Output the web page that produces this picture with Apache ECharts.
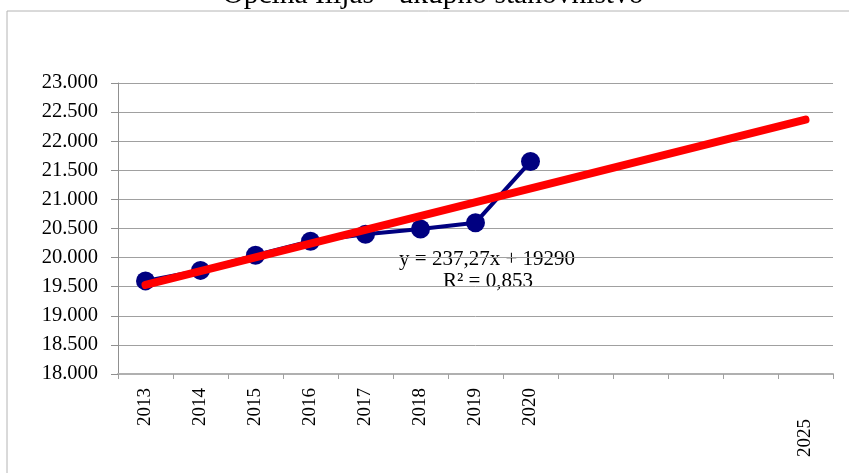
<!DOCTYPE html>
<html>
<head>
<meta charset="utf-8">
<script src="https://cdn.jsdelivr.net/npm/echarts@6/dist/echarts.min.js"></script>
<style>
  html, body { margin: 0; padding: 0; background: #fff; }
  #chartBox { width: 849px; height: 473px; }
</style>
</head>
<body>
<div id="chartBox"></div>
<script>
// tick labels of the category axis (blank years had no label in the original)
var categories = ["2013", "2014", "2015", "2016", "2017", "2018", "2019", "2020", "", "", "", "", "2025"];
// total population
var population = [19600, 19780, 20040, 20280, 20400, 20490, 20600, 21650];
// linear trend end points (2013 and 2025)
var trendIndex = [0, 12];
var trendValue = [19530, 22370];
var yTicks = { min: 18000, max: 23000, step: 500 };

var serif = "'Liberation Serif', 'Times New Roman', serif";

var trendData = [];
for (var i = 0; i < trendIndex.length; i++) {
  trendData.push([trendIndex[i], trendValue[i]]);
}

var chart = echarts.init(document.getElementById("chartBox"));
var option = {
  animation: false,
  backgroundColor: "#fff",
  grid: { left: 118, right: 16, top: 83, bottom: 99, containLabel: false },
  graphic: [
    {
      type: "rect",
      shape: { x: 7, y: 11, width: 1200, height: 1200 },
      style: { fill: "none", stroke: "#b4b4b4", lineWidth: 1 },
      silent: true
    },
    {
      type: "text",
      x: 433, y: 10,
      style: {
        text: "Općina Ilijaš - ukupno stanovništvo",
        font: "29.5px " + serif,
        fill: "#000",
        textAlign: "center",
        textVerticalAlign: "bottom"
      }
    },
    {
      type: "text",
      x: 487, y: 259,
      style: {
        text: "y = 237,27x + 19290",
        font: "21px " + serif,
        fill: "#000",
        textAlign: "center",
        textVerticalAlign: "middle"
      }
    },
    {
      type: "text",
      x: 488, y: 281,
      style: {
        text: "R² = 0,853",
        font: "21px " + serif,
        fill: "#000",
        textAlign: "center",
        textVerticalAlign: "middle"
      }
    }
  ],
  xAxis: {
    type: "category",
    data: categories,
    boundaryGap: true,
    axisLine: { lineStyle: { color: "#b0b0b0", width: 2 } },
    axisTick: { show: true, interval: 0, length: 5, lineStyle: { color: "#a0a0a0" } },
    axisLabel: {
      interval: 0,
      rotate: 90,
      margin: 14,
      color: "#000",
      fontFamily: serif,
      fontSize: 19,
      formatter: function (v) {
        // the 2025 label sits lower in the original
        return v === "2025" ? "{f|" + v + "}" : v;
      },
      rich: { f: { fontFamily: serif, fontSize: 19, color: "#000", padding: [0, 31, 0, 0] } }
    },
    splitLine: { show: false }
  },
  yAxis: {
    type: "value",
    min: yTicks.min,
    max: yTicks.max,
    interval: yTicks.step,
    axisLine: { show: true, lineStyle: { color: "#909090" } },
    axisTick: { show: true, length: 7, lineStyle: { color: "#909090" } },
    axisLabel: {
      margin: 20,
      color: "#000",
      fontFamily: serif,
      fontSize: 20.5,
      formatter: function (v) {
        return (v / 1000).toFixed(3);
      }
    },
    splitLine: { lineStyle: { color: "#a0a0a0", width: 1 } }
  },
  series: [
    {
      name: "stanovništvo",
      type: "line",
      data: population,
      symbol: "circle",
      symbolSize: 19,
      itemStyle: { color: "#000080" },
      lineStyle: { color: "#000080", width: 4 },
      z: 2
    },
    {
      name: "trend",
      type: "line",
      data: trendData,
      symbol: "none",
      lineStyle: { color: "#ff0000", width: 8, cap: "round" },
      z: 3
    }
  ]
};
chart.setOption(option);
</script>
</body>
</html>
